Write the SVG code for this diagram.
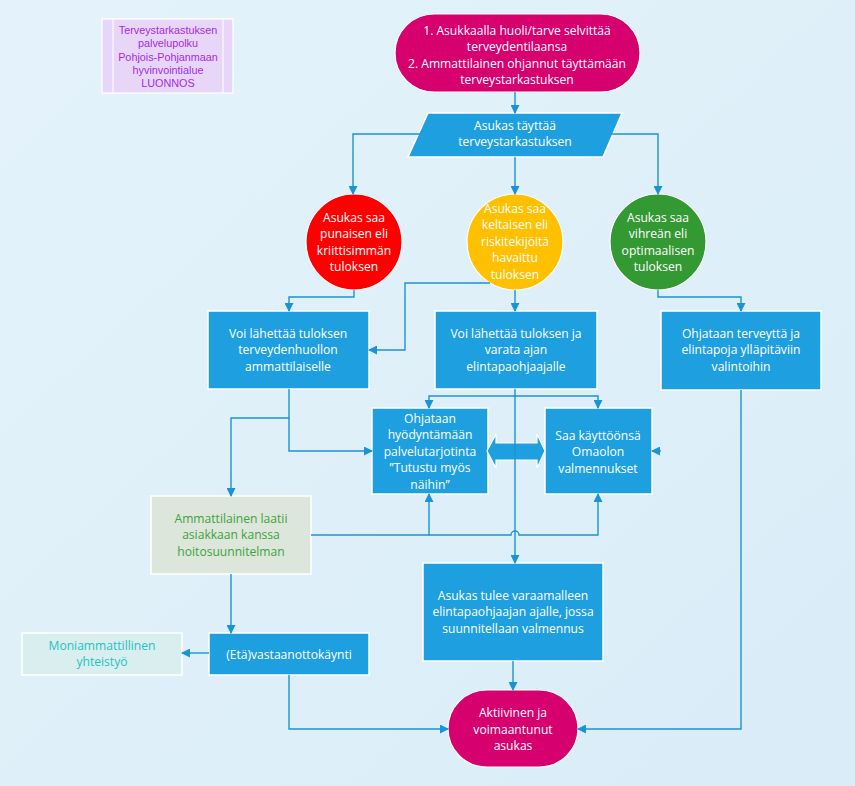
<svg xmlns="http://www.w3.org/2000/svg" width="855" height="786" viewBox="0 0 855 786">
<defs>
<linearGradient id="bg" x1="0" y1="0" x2="1" y2="1">
<stop offset="0" stop-color="#e4f3fb"/>
<stop offset="1" stop-color="#d9ecf7"/>
</linearGradient>
<marker id="ah" markerWidth="9" markerHeight="9" refX="8" refY="4.5" orient="auto" markerUnits="userSpaceOnUse">
<path d="M0,0 L9,4.5 L0,9 z" fill="#1b94d4"/>
</marker>
<style>
text{font-family:"Open Sans","Noto Sans","Liberation Sans",sans-serif;font-size:12.1px;text-anchor:middle;dominant-baseline:central}
.w{fill:#ffffff}
.t{font-family:"Liberation Sans",Arial,sans-serif;font-size:10.8px;fill:#a42be8}
.box{fill:#1ea0e0;stroke:#ffffff;stroke-width:1.5}
.con{fill:none;stroke:#1b94d4;stroke-width:1.4}
.arr{marker-end:url(#ah)}
</style>
</defs>
<rect width="855" height="786" fill="url(#bg)"/>

<g id="title">
<rect x="102" y="19" width="131" height="74" fill="#e8d6f8" stroke="#ffffff" stroke-width="1.2"/>
<line x1="113" y1="19" x2="113" y2="93" stroke="#ffffff" stroke-width="1"/>
<line x1="223" y1="19" x2="223" y2="93" stroke="#ffffff" stroke-width="1"/>
<text class="t" x="168" y="30">Terveystarkastuksen</text>
<text class="t" x="168" y="43">palvelupolku</text>
<text class="t" x="168" y="57">Pohjois-Pohjanmaan</text>
<text class="t" x="168" y="70">hyvinvointialue</text>
<text class="t" x="168" y="83">LUONNOS</text>
</g>

<g id="start">
<rect x="395" y="14" width="245" height="78" rx="39" fill="#d6006f" stroke="#ffffff" stroke-width="1.2"/>
<text class="w" x="517" y="30">1. Asukkaalla huoli/tarve selvittää</text>
<text class="w" x="517" y="46.5">terveydentilaansa</text>
<text class="w" x="517" y="63">2. Ammattilainen ohjannut täyttämään</text>
<text class="w" x="517" y="79.5">terveystarkastuksen</text>
</g>

<g id="fill">
<polygon points="428,113 622,113 603,157 408,157" class="box"/>
<text class="w" x="515" y="125">Asukas täyttää</text>
<text class="w" x="515" y="141.5">terveystarkastuksen</text>
</g>

<g id="red">
<circle cx="354" cy="242" r="48" fill="#ff0000" stroke="#ffffff" stroke-width="1.2"/>
<text class="w" x="354" y="217">Asukas saa</text>
<text class="w" x="354" y="233.5">punaisen eli</text>
<text class="w" x="354" y="250">kriittisimmän</text>
<text class="w" x="354" y="266.5">tuloksen</text>
</g>

<g id="yellow">
<circle cx="515" cy="242" r="48" fill="#ffc000" stroke="#ffffff" stroke-width="1.2"/>
<text class="w" x="515" y="208">Asukas saa</text>
<text class="w" x="515" y="224.5">keltaisen eli</text>
<text class="w" x="515" y="241">riskitekijöitä</text>
<text class="w" x="515" y="257.5">havaittu</text>
<text class="w" x="515" y="274">tuloksen</text>
</g>

<g id="green">
<circle cx="658" cy="242" r="48" fill="#339933" stroke="#ffffff" stroke-width="1.2"/>
<text class="w" x="658" y="217">Asukas saa</text>
<text class="w" x="658" y="233.5">vihreän eli</text>
<text class="w" x="658" y="250">optimaalisen</text>
<text class="w" x="658" y="266.5">tuloksen</text>
</g>

<g id="boxA">
<rect x="208" y="311" width="161" height="78" class="box"/>
<text class="w" x="288" y="333">Voi lähettää tuloksen</text>
<text class="w" x="288" y="349.5">terveydenhuollon</text>
<text class="w" x="288" y="366">ammattilaiselle</text>
</g>

<g id="boxB">
<rect x="435" y="311" width="162" height="78" class="box"/>
<text class="w" x="516" y="333">Voi lähettää tuloksen ja</text>
<text class="w" x="516" y="349.5">varata ajan</text>
<text class="w" x="516" y="366">elintapaohjaajalle</text>
</g>

<g id="boxC">
<rect x="661" y="311" width="160" height="79" class="box"/>
<text class="w" x="741" y="333">Ohjataan terveyttä ja</text>
<text class="w" x="741" y="349.5">elintapoja ylläpitäviin</text>
<text class="w" x="741" y="366">valintoihin</text>
</g>

<g id="boxD">
<rect x="372" y="408" width="116" height="86" class="box"/>
<text class="w" x="430" y="418">Ohjataan</text>
<text class="w" x="430" y="434.5">hyödyntämään</text>
<text class="w" x="430" y="451">palvelutarjotinta</text>
<text class="w" x="430" y="467.5">”Tutustu myös</text>
<text class="w" x="430" y="484">näihin”</text>
</g>

<g id="boxE">
<rect x="545" y="408" width="107" height="86" class="box"/>
<text class="w" x="598" y="435">Saa käyttöönsä</text>
<text class="w" x="598" y="451.5">Omaolon</text>
<text class="w" x="598" y="468">valmennukset</text>
</g>

<g id="dblarrow">
<polygon points="487,451 496,434 496,443 537,443 537,434 545,451 537,468 537,460 496,460 496,468" fill="#1ea0e0" stroke="#ffffff" stroke-width="1.2"/>
</g>

<g id="boxF">
<rect x="151" y="496" width="160" height="78" fill="#dce6da" stroke="#ffffff" stroke-width="1.5"/>
<text x="231" y="518" style="fill:#3ea33e">Ammattilainen laatii</text>
<text x="231" y="534.5" style="fill:#3ea33e">asiakkaan kanssa</text>
<text x="231" y="551" style="fill:#3ea33e">hoitosuunnitelman</text>
</g>

<g id="boxG">
<rect x="423" y="563" width="180" height="98" class="box"/>
<text class="w" x="513" y="595">Asukas tulee varaamalleen</text>
<text class="w" x="513" y="611.5">elintapaohjaajan ajalle, jossa</text>
<text class="w" x="513" y="628">suunnitellaan valmennus</text>
</g>

<g id="boxH">
<rect x="209" y="633" width="160" height="42" class="box"/>
<text class="w" x="289" y="654">(Etä)vastaanottokäynti</text>
</g>

<g id="boxI">
<rect x="22" y="633" width="160" height="42" fill="#d9eeee" stroke="#ffffff" stroke-width="1.5"/>
<text x="102" y="645" style="fill:#22c3c3">Moniammattillinen</text>
<text x="102" y="661.5" style="fill:#22c3c3">yhteistyö</text>
</g>

<g id="end">
<rect x="448" y="690" width="130" height="77" rx="38.5" fill="#d6006f" stroke="#ffffff" stroke-width="1.2"/>
<text class="w" x="513" y="712.5">Aktiivinen ja</text>
<text class="w" x="513" y="729">voimaantunut</text>
<text class="w" x="513" y="745.5">asukas</text>
</g>

<g id="connectors">
<path class="con arr" d="M515,92 V113"/>
<path class="con arr" d="M420,134 H353 V194"/>
<path class="con arr" d="M612,134 H658 V194"/>
<path class="con arr" d="M515,157 V194"/>
<path class="con arr" d="M354,290 V297 H289 V311"/>
<path class="con arr" d="M490,283 H405 V350 H369"/>
<path class="con arr" d="M515,290 V311"/>
<path class="con arr" d="M658,290 V297 H741 V311"/>
<path class="con arr" d="M515,389 V563"/>
<path class="con arr" d="M515,396 H429 V408"/>
<path class="con arr" d="M515,396 H598 V408"/>
<path class="con arr" d="M289,389 V418 H231 V496"/>
<path class="con arr" d="M289,418 V451 H372"/>
<path class="con arr" d="M311,535 H429 V494"/>
<path class="con arr" d="M429,535 H511 A4,4 0 0 1 519,535 H598 V494"/>
<path class="con arr" d="M513,661 V690"/>
<path class="con arr" d="M231,574 V633"/>
<path class="con arr" d="M209,653 H182"/>
<path class="con arr" d="M289,675 V729 H448"/>
<path class="con arr" d="M741,390 V729 H578"/>
<path class="con arr" d="M661,451 H652"/>
</g>
</svg>
